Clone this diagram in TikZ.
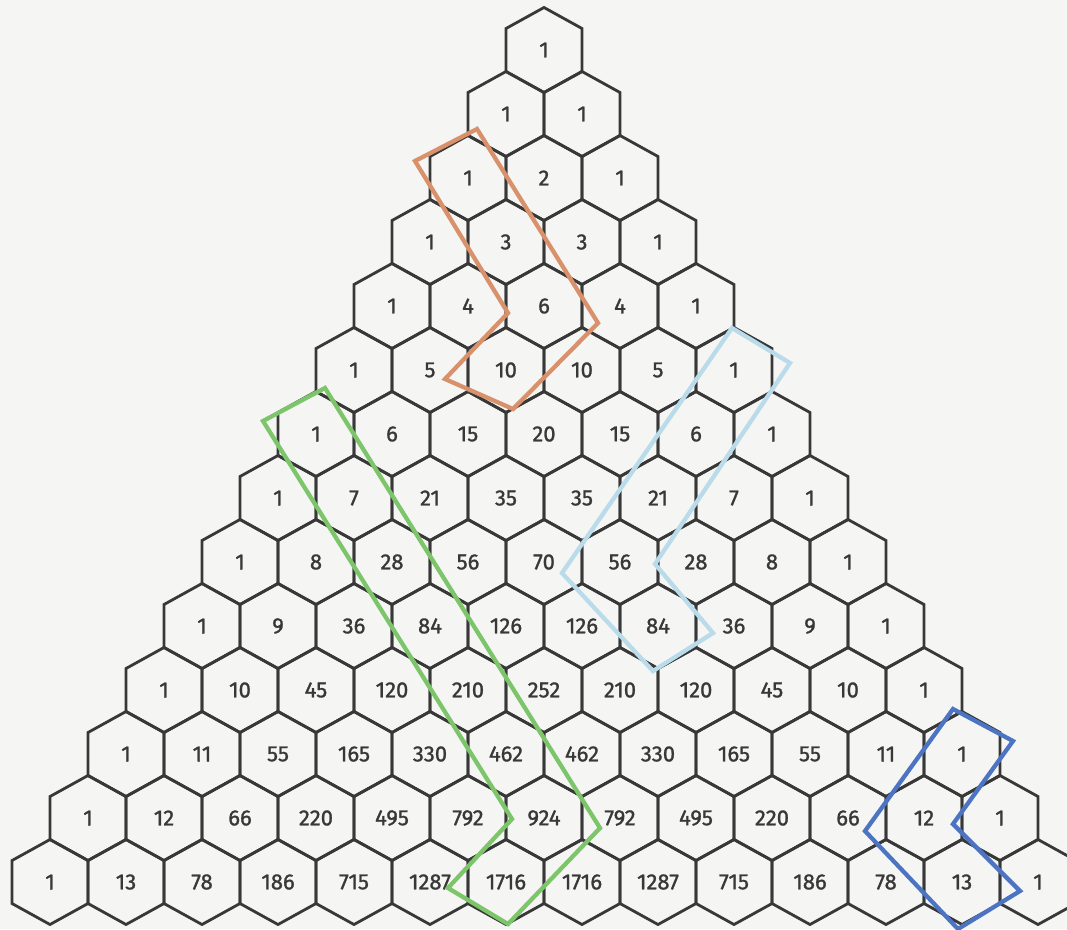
\documentclass[tikz,border=0pt]{standalone}
\usepackage{fontspec}
\setmainfont{Fira Sans}
\newfontfamily\cellfont{Fira Sans}[FakeBold=1.2]
\usepackage{xcolor}
\usepackage{tikz}
\usetikzlibrary{calc}

\definecolor{paper}{HTML}{F5F5F4}
\definecolor{hexgray}{HTML}{383838}
\definecolor{stickorange}{HTML}{D8916B}
\definecolor{stickgreen}{HTML}{7DC56A}
\definecolor{stickcyan}{HTML}{B9DBEA}
\definecolor{stickblue}{HTML}{4C74C3}

\begin{document}
\begin{tikzpicture}[
 x=0.75pt, y=-0.75pt,
 cell/.style={inner sep=0pt, text=hexgray, font=\cellfont\fontsize{16.5}{18}\selectfont},
 hexline/.style={draw=hexgray, line width=2.1pt, line join=miter},
 stick/.style={line width=3.2pt, line join=miter}
]
\useasboundingbox (0,0) rectangle (1067,929);
\fill[paper] (0,0) rectangle (1067,929);
\clip (0,0) rectangle (1067,929);
\foreach \row [count=\r from 0] in {{1},{1,1},{1,2,1},{1,3,3,1},{1,4,6,4,1},
  {1,5,10,10,5,1},{1,6,15,20,15,6,1},{1,7,21,35,35,21,7,1},
  {1,8,28,56,70,56,28,8,1},{1,9,36,84,126,126,84,36,9,1},
  {1,10,45,120,210,252,210,120,45,10,1},{1,11,55,165,330,462,462,330,165,55,11,1},
  {1,12,66,220,495,792,924,792,495,220,66,12,1},
  {1,13,78,186,715,1287,1716,1716,1287,715,186,78,13,1}}{
  \foreach \v [count=\k from 0] in \row {
    \pgfmathsetmacro{\cx}{544+(\k-\r/2)*76}
    \pgfmathsetmacro{\cy}{50+64*\r}
    \node[cell] (h\r-\k) at (\cx,\cy) {\v};
    \draw[hexline] (h\r-\k.center) +(0,-42.5) -- +(38,-21.5) -- +(38,21.5)
      -- +(0,42.5) -- +(-38,21.5) -- +(-38,-21.5) -- cycle;
  }
}
\draw[stick, draw=stickorange] ($(h2-0)+(-53,-17)$) -- ($(h2-0)+(9,-49)$)
  -- ($(h4-2)+(54,17)$) -- ($(h5-2)+(7,39)$) -- ($(h5-2)+(-61,9)$)
  -- ($(h4-2)+(-36,7)$) -- cycle;
\draw[stick, draw=stickgreen] ($(h6-0)+(-53,-13)$) -- ($(h6-0)+(9,-46)$)
  -- ($(h12-6)+(56,10)$) -- ($(h13-6)+(2,42)$) -- ($(h13-6)+(-58,6)$)
  -- ($(h12-6)+(-32,1)$) -- cycle;
\draw[stick, draw=stickcyan] ($(h5-5)+(-2,-42)$) -- ($(h5-5)+(56,-7)$)
  -- ($(h8-5)+(35,2)$) -- ($(h9-6)+(55,7)$) -- ($(h9-6)+(-5,45)$)
  -- ($(h8-5)+(-58,11)$) -- cycle;
\draw[stick, draw=stickblue] ($(h11-11)+(-9,-45)$) -- ($(h11-11)+(51,-13)$)
  -- ($(h12-11)+(29,6)$) -- ($(h13-12)+(58,9)$) -- ($(h13-12)+(-4,47)$)
  -- ($(h12-11)+(-59,13)$) -- cycle;
\end{tikzpicture}
\end{document}
